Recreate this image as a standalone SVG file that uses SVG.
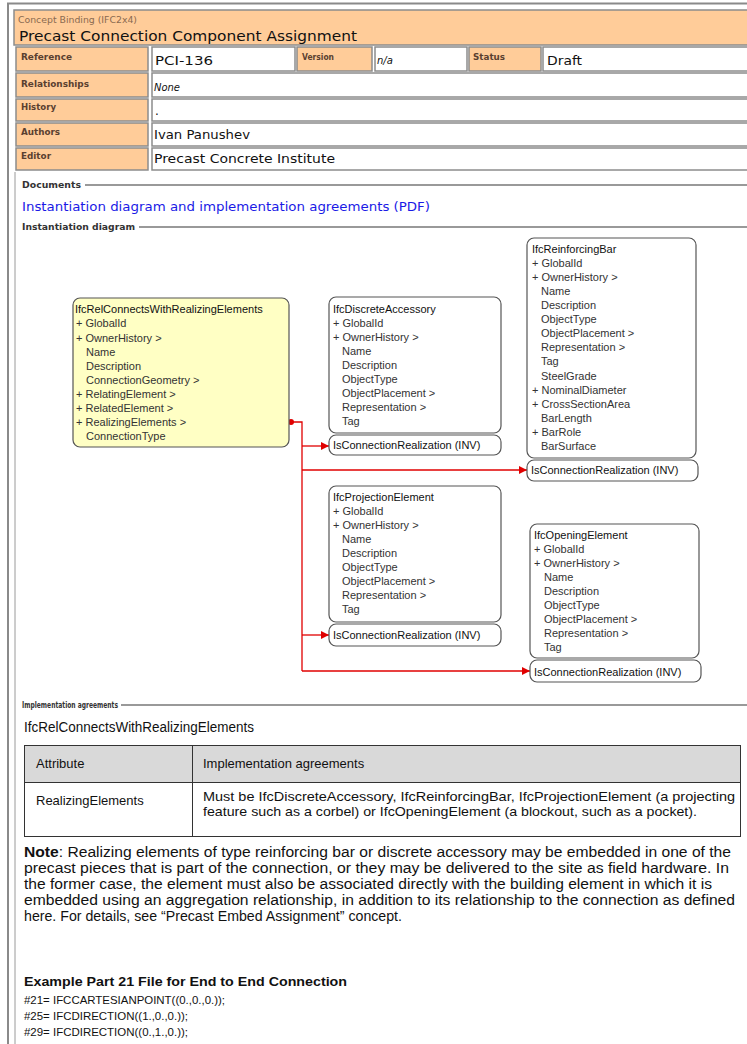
<svg xmlns="http://www.w3.org/2000/svg" width="747" height="1044" viewBox="0 0 747 1044">
<defs>
<style>
.lbl{fill:#FFCC99;stroke:#8c8c8c;stroke-width:1.5}
.val{fill:#fff;stroke:#8c8c8c;stroke-width:1.5}
.lt{font-family:"DejaVu Sans",Verdana,sans-serif;font-size:8px;font-weight:bold;fill:#5a4030}
.vt{font-family:"DejaVu Sans",Verdana,sans-serif;font-size:12px;fill:#111}
.it{font-family:"DejaVu Sans",Verdana,sans-serif;font-size:10px;font-style:italic;fill:#111}
.leg{font-family:"DejaVu Sans",Verdana,sans-serif;font-size:8px;font-weight:bold;fill:#333}
.gl{stroke:#777;stroke-width:1.5;fill:none}
.box{fill:#fff;stroke:#555;stroke-width:1.2}
.ybox{fill:#ffffc4;stroke:#555;stroke-width:1.2}
.nt{font-family:"Liberation Sans",Arial,sans-serif;font-size:11px;fill:#333}
.nh{font-family:"Liberation Sans",Arial,sans-serif;font-size:11px;fill:#111}
.conn{stroke:#e00000;stroke-width:1.3;fill:none}
.body{font-family:"Liberation Sans",Arial,sans-serif;fill:#111}
</style>
<marker id="arr" viewBox="0 0 10 10" refX="10" refY="5" markerWidth="8" markerHeight="8" markerUnits="userSpaceOnUse" orient="auto">
<path d="M0,0 L10,5 L0,10 z" fill="#e00000"/>
</marker>
</defs>
<rect width="747" height="1044" fill="#fff"/>
<!-- page frame -->
<rect x="8" y="3.5" width="760" height="1060" fill="none" stroke="#8a8a8a" stroke-width="2"/>
<line x1="15" y1="172" x2="15" y2="1044" stroke="#9a9a9a" stroke-width="1"/>

<!-- header -->
<g id="header">
<rect x="14" y="10" width="740" height="35" fill="#FFCC99" stroke="#8c8c8c" stroke-width="1.5"/>
<text x="18" y="23" font-family="DejaVu Sans,Verdana,sans-serif" font-size="8" fill="#8a6a50" textLength="119" lengthAdjust="spacingAndGlyphs">Concept Binding (IFC2x4)</text>
<text x="19" y="41" font-family="DejaVu Sans,Verdana,sans-serif" font-size="14" fill="#111" textLength="338" lengthAdjust="spacingAndGlyphs">Precast Connection Component Assignment</text>

<rect class="lbl" x="16" y="47" width="132" height="24"/>
<rect class="val" x="152" y="47" width="143" height="24"/>
<rect class="lbl" x="297" y="47" width="75" height="24"/>
<rect class="val" x="375" y="47" width="92" height="24"/>
<rect class="lbl" x="469" y="47" width="72" height="24"/>
<rect class="val" x="543" y="47" width="210" height="24"/>
<text class="lt" x="21" y="60" textLength="51" lengthAdjust="spacingAndGlyphs">Reference</text>
<text class="vt" x="155" y="65" textLength="58" lengthAdjust="spacingAndGlyphs">PCI-136</text>
<text class="lt" x="302" y="60" textLength="32" lengthAdjust="spacingAndGlyphs">Version</text>
<text class="it" x="377" y="64">n/a</text>
<text class="lt" x="473" y="60" textLength="32" lengthAdjust="spacingAndGlyphs">Status</text>
<text class="vt" x="547" y="65" textLength="35" lengthAdjust="spacingAndGlyphs">Draft</text>

<rect class="lbl" x="16" y="73" width="132" height="24"/>
<rect class="val" x="152" y="73" width="601" height="24"/>
<text class="lt" x="21" y="87" textLength="68" lengthAdjust="spacingAndGlyphs">Relationships</text>
<text class="it" x="154" y="91" textLength="26" lengthAdjust="spacingAndGlyphs">None</text>

<rect class="lbl" x="16" y="99" width="132" height="22"/>
<rect class="val" x="152" y="99" width="601" height="22"/>
<text class="lt" x="21" y="110" textLength="35" lengthAdjust="spacingAndGlyphs">History</text>
<text class="vt" x="155" y="115">.</text>

<rect class="lbl" x="16" y="123" width="132" height="23"/>
<rect class="val" x="152" y="123" width="601" height="23"/>
<text class="lt" x="21" y="135" textLength="39" lengthAdjust="spacingAndGlyphs">Authors</text>
<text class="vt" x="154" y="139" textLength="96" lengthAdjust="spacingAndGlyphs">Ivan Panushev</text>

<rect class="lbl" x="16" y="148" width="132" height="22"/>
<rect class="val" x="152" y="148" width="601" height="22"/>
<text class="lt" x="21" y="159" textLength="30" lengthAdjust="spacingAndGlyphs">Editor</text>
<text class="vt" x="154" y="163" textLength="181" lengthAdjust="spacingAndGlyphs">Precast Concrete Institute</text>
</g>

<!-- sections -->
<g id="sections">
<text class="leg" x="22" y="188" textLength="59" lengthAdjust="spacingAndGlyphs">Documents</text>
<line class="gl" x1="85" y1="185" x2="747" y2="185"/>
<text x="22" y="211" font-family="DejaVu Sans,Verdana,sans-serif" font-size="12" fill="#1a1ae6" textLength="408" lengthAdjust="spacingAndGlyphs">Instantiation diagram and implementation agreements (PDF)</text>
<text class="leg" x="22" y="230" textLength="113" lengthAdjust="spacingAndGlyphs">Instantiation diagram</text>
<line class="gl" x1="139" y1="227" x2="747" y2="227"/>
<text class="leg" x="22" y="708" font-weight="normal" textLength="96" lengthAdjust="spacingAndGlyphs">Implementation agreements</text>
<line class="gl" x1="121" y1="705" x2="747" y2="705"/>
</g>

<!-- connectors -->
<g id="connectors">
<circle cx="291" cy="422" r="3" fill="#e00000"/>
<path class="conn" d="M291,422 H302 V671"/>
<path class="conn" d="M302,446 H329" marker-end="url(#arr)"/>
<path class="conn" d="M302,470 H527" marker-end="url(#arr)"/>
<path class="conn" d="M302,635 H329" marker-end="url(#arr)"/>
<path class="conn" d="M302,671 H530" marker-end="url(#arr)"/>
</g>

<g id="node-rel">
<rect class="ybox" x="73" y="298" width="216" height="149" rx="7"/>
<text class="nh" x="75" y="313">IfcRelConnectsWithRealizingElements</text>
<text class="nt" x="76" y="327">+ GlobalId</text>
<text class="nt" x="76" y="342">+ OwnerHistory &gt;</text>
<text class="nt" x="86" y="356">Name</text>
<text class="nt" x="86" y="370">Description</text>
<text class="nt" x="86" y="384">ConnectionGeometry &gt;</text>
<text class="nt" x="76" y="398">+ RelatingElement &gt;</text>
<text class="nt" x="76" y="412">+ RelatedElement &gt;</text>
<text class="nt" x="76" y="426">+ RealizingElements &gt;</text>
<text class="nt" x="86" y="440">ConnectionType</text>
</g>

<g id="node-discrete">
<rect class="box" x="329" y="297" width="172" height="136" rx="7"/>
<text class="nh" x="333" y="313">IfcDiscreteAccessory</text>
<text class="nt" x="333" y="327">+ GlobalId</text>
<text class="nt" x="333" y="341">+ OwnerHistory &gt;</text>
<text class="nt" x="342" y="355">Name</text>
<text class="nt" x="342" y="369">Description</text>
<text class="nt" x="342" y="383">ObjectType</text>
<text class="nt" x="342" y="397">ObjectPlacement &gt;</text>
<text class="nt" x="342" y="411">Representation &gt;</text>
<text class="nt" x="342" y="425">Tag</text>
<rect class="box" x="329" y="435" width="172" height="20" rx="7"/>
<text class="nh" x="333" y="449">IsConnectionRealization (INV)</text>
</g>

<g id="node-rebar">
<rect class="box" x="527" y="238" width="169" height="220" rx="7"/>
<text class="nh" x="532" y="253">IfcReinforcingBar</text>
<text class="nt" x="532" y="267">+ GlobalId</text>
<text class="nt" x="532" y="281">+ OwnerHistory &gt;</text>
<text class="nt" x="541" y="295">Name</text>
<text class="nt" x="541" y="309">Description</text>
<text class="nt" x="541" y="323">ObjectType</text>
<text class="nt" x="541" y="337">ObjectPlacement &gt;</text>
<text class="nt" x="541" y="351">Representation &gt;</text>
<text class="nt" x="541" y="365">Tag</text>
<text class="nt" x="541" y="380">SteelGrade</text>
<text class="nt" x="532" y="394">+ NominalDiameter</text>
<text class="nt" x="532" y="408">+ CrossSectionArea</text>
<text class="nt" x="541" y="422">BarLength</text>
<text class="nt" x="532" y="436">+ BarRole</text>
<text class="nt" x="541" y="450">BarSurface</text>
<rect class="box" x="527" y="460" width="171" height="21" rx="7"/>
<text class="nh" x="531" y="474">IsConnectionRealization (INV)</text>
</g>

<g id="node-projection">
<rect class="box" x="329" y="486" width="172" height="136" rx="7"/>
<text class="nh" x="333" y="501">IfcProjectionElement</text>
<text class="nt" x="333" y="515">+ GlobalId</text>
<text class="nt" x="333" y="529">+ OwnerHistory &gt;</text>
<text class="nt" x="342" y="543">Name</text>
<text class="nt" x="342" y="557">Description</text>
<text class="nt" x="342" y="571">ObjectType</text>
<text class="nt" x="342" y="585">ObjectPlacement &gt;</text>
<text class="nt" x="342" y="599">Representation &gt;</text>
<text class="nt" x="342" y="613">Tag</text>
<rect class="box" x="329" y="624" width="172" height="22" rx="7"/>
<text class="nh" x="333" y="639">IsConnectionRealization (INV)</text>
</g>

<g id="node-opening">
<rect class="box" x="530" y="524" width="169" height="134" rx="7"/>
<text class="nh" x="534" y="539">IfcOpeningElement</text>
<text class="nt" x="534" y="553">+ GlobalId</text>
<text class="nt" x="534" y="567">+ OwnerHistory &gt;</text>
<text class="nt" x="544" y="581">Name</text>
<text class="nt" x="544" y="595">Description</text>
<text class="nt" x="544" y="609">ObjectType</text>
<text class="nt" x="544" y="623">ObjectPlacement &gt;</text>
<text class="nt" x="544" y="637">Representation &gt;</text>
<text class="nt" x="544" y="651">Tag</text>
<rect class="box" x="530" y="660" width="171" height="22" rx="7"/>
<text class="nh" x="534" y="676">IsConnectionRealization (INV)</text>
</g>

<!-- implementation agreements -->
<g id="agreements">
<text class="body" x="24" y="732" font-size="14" textLength="230" lengthAdjust="spacingAndGlyphs">IfcRelConnectsWithRealizingElements</text>
<rect x="24.5" y="745.5" width="716" height="37" fill="#d9d9d9" stroke="#333" stroke-width="1"/>
<rect x="24.5" y="782.5" width="716" height="54" fill="#fff" stroke="#333" stroke-width="1"/>
<line x1="192.5" y1="745" x2="192.5" y2="837" stroke="#333" stroke-width="1"/>
<text class="body" x="36" y="768" font-size="13">Attribute</text>
<text class="body" x="203" y="768" font-size="13">Implementation agreements</text>
<text class="body" x="36" y="805" font-size="13">RealizingElements</text>
<text class="body" x="203" y="801" font-size="13" textLength="532" lengthAdjust="spacingAndGlyphs">Must be IfcDiscreteAccessory,  IfcReinforcingBar, IfcProjectionElement (a projecting</text>
<text class="body" x="203" y="816" font-size="13" textLength="494" lengthAdjust="spacingAndGlyphs">feature such as a corbel) or IfcOpeningElement (a blockout, such as a pocket).</text>
</g>

<g id="note">
<text class="body" x="24" y="857" font-size="14" textLength="707" lengthAdjust="spacingAndGlyphs"><tspan font-weight="bold">Note</tspan>: Realizing elements of type reinforcing bar or discrete accessory may be embedded in one of the</text>
<text class="body" x="24" y="873" font-size="14" textLength="705" lengthAdjust="spacingAndGlyphs">precast pieces that is part of the connection, or they may be delivered to the site as field hardware. In</text>
<text class="body" x="24" y="889" font-size="14" textLength="688" lengthAdjust="spacingAndGlyphs">the former case, the element must also be associated directly with the building element in which it is</text>
<text class="body" x="24" y="905" font-size="14" textLength="711" lengthAdjust="spacingAndGlyphs">embedded using an aggregation relationship, in addition to its relationship to the connection as defined</text>
<text class="body" x="24" y="921" font-size="14" textLength="378" lengthAdjust="spacingAndGlyphs">here. For details, see “Precast Embed Assignment” concept.</text>
</g>

<g id="example">
<text class="body" x="24" y="986" font-size="13" font-weight="bold" textLength="323" lengthAdjust="spacingAndGlyphs">Example Part 21 File for End to End Connection</text>
<text class="body" x="24" y="1004" font-size="11" textLength="201" lengthAdjust="spacingAndGlyphs">#21= IFCCARTESIANPOINT((0.,0.,0.));</text>
<text class="body" x="24" y="1020" font-size="11" textLength="164" lengthAdjust="spacingAndGlyphs">#25= IFCDIRECTION((1.,0.,0.));</text>
<text class="body" x="24" y="1036" font-size="11" textLength="164" lengthAdjust="spacingAndGlyphs">#29= IFCDIRECTION((0.,1.,0.));</text>
</g>
</svg>
